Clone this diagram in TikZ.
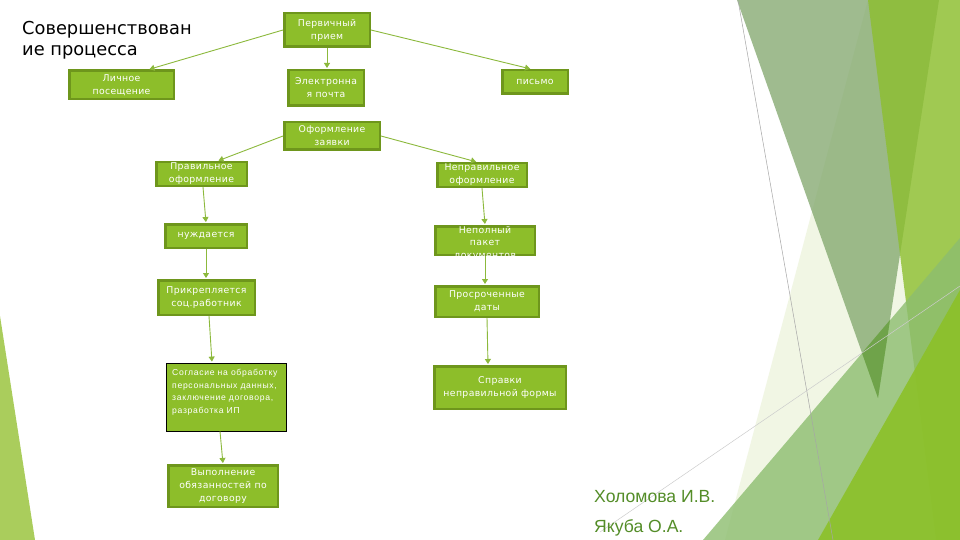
\documentclass[tikz,border=0pt]{standalone}
\usepackage{fontspec}
\setmainfont{DejaVu Sans}
\newfontfamily\boxfont[LetterSpace=4]{DejaVu Sans}
\newfontfamily\narrowfont[LetterSpace=8]{Liberation Sans}
\newfontfamily\authfont{Liberation Sans}
\usetikzlibrary{arrows.meta,calc}
\definecolor{boxfill}{RGB}{141,190,42}
\definecolor{boxedge}{RGB}{110,150,28}
\definecolor{linecol}{RGB}{140,185,60}
\definecolor{authgreen}{RGB}{84,141,40}
\definecolor{leftgreen}{RGB}{170,205,92}
\definecolor{palec}{RGB}{200,220,150}
\definecolor{bandA}{RGB}{127,165,106}
\definecolor{bandD}{RGB}{140,190,46}
\definecolor{bandL}{RGB}{140,189,111}
\definecolor{bandG}{RGB}{140,193,40}
\definecolor{darktri}{RGB}{111,163,74}
\begin{document}
\begin{tikzpicture}[x=1pt,y=-1pt,
  gbox/.style={draw=boxedge, line width=2.5pt, fill=boxfill, text=white,
    font=\boxfont\fontsize{9.3}{13}\selectfont, align=center, inner sep=0pt},
  boxtext/.style={text=white, font=\boxfont\fontsize{9.3}{12.5}\selectfont, align=center, inner sep=0pt},
  conn/.style={draw=linecol, line width=0.9pt, shorten >=1pt, -{Triangle[width=6pt,length=5pt]}},
  titlefont/.style={anchor=base west, inner sep=0pt, font=\fontsize{17.8}{20}\selectfont},
  authstyle/.style={anchor=base west, inner sep=0pt, text=authgreen, font=\authfont\fontsize{17.6}{20}\selectfont},
]
\useasboundingbox (0,0) rectangle (960,540);
\fill[white] (0,0) rectangle (960,540);
% background facets
\fill[leftgreen] (0,316) -- (35,540) -- (0,540) -- cycle;
\fill[palec, opacity=0.25] (868,0) -- (960,0) -- (960,540) -- (725,540) -- cycle;
\fill[bandA, opacity=0.75] (737,0) -- (939,0) -- (878,398) -- cycle;
\fill[bandD, opacity=0.8] (868,0) -- (960,0) -- (960,540) -- (936,540) -- cycle;
\fill[bandL, opacity=0.8] (703,540) -- (960,238) -- (960,540) -- cycle;
\fill[darktri] (862,353) -- (890,320) -- (878,398) -- cycle;
\fill[bandG, opacity=0.9] (818,540) -- (960,290) -- (960,540) -- cycle;
\draw[gray!70, line width=0.5pt] (738,0) -- (833,540);
\draw[gray!40, line width=0.5pt] (600,532) -- (960,286);

% title and authors
\node[titlefont] (t1) at (22,35) {Совершенствован};
\node[titlefont] (t2) at (22,56) {ие процесса};
\node[authstyle] (a1) at (594,502) {Холомова И.В.};
\node[authstyle] (a2) at (594,532) {Якуба О.А.};

% boxes
\node[gbox, minimum width=85.5pt, minimum height=33.5pt] (p1) at (327,30) {Первичный\\прием};
\node[gbox, minimum width=104.5pt, minimum height=28.5pt] (p2) at (121.5,85) {Личное\\посещение};
\node[gbox, minimum width=75.5pt, minimum height=35.5pt] (p3) at (326,88) {Электронна\\я почта};
\node[gbox, minimum width=65.5pt, minimum height=23.5pt] (p4) at (535,82) {письмо};
\node[gbox, minimum width=95.5pt, minimum height=27.5pt] (p5) at (332,136) {Оформление\\заявки};
\node[gbox, minimum width=90.5pt, minimum height=23.5pt] (p6) at (201.5,174) {Правильное\\оформление};
\node[gbox, minimum width=89.5pt, minimum height=23.5pt] (p7) at (482,175) {Неправильное\\оформление};
\node[gbox, minimum width=81.5pt, minimum height=23.5pt] (p8) at (206,236) {нуждается};
\node[gbox, minimum width=99.5pt, minimum height=28.5pt] (p9) at (485,240.5) {};
\node[boxtext] (p9t) at (485,243) {Неполный\\пакет\\документов};
\node[gbox, minimum width=96.5pt, minimum height=34.5pt] (p10) at (206.5,297.5) {Прикрепляется\\соц.работник};
\node[gbox, minimum width=103.5pt, minimum height=30.5pt] (p11) at (487,301.5) {Просроченные\\даты};
\node[draw=black, line width=0.8pt, fill=boxfill, minimum width=120pt, minimum height=68pt, inner sep=0pt] (p12) at (226,397) {};
\node[anchor=north west, inner sep=0pt, text=white, align=left,
  font=\narrowfont\fontsize{8.6}{12.5}\selectfont] (p12t) at (172,369)
  {Согласие на обработку\\персональных данных,\\заключение договора,\\разработка ИП};
\node[gbox, minimum width=131.5pt, minimum height=42.5pt] (p13) at (500,387.5) {Справки\\неправильной формы};
\node[gbox, minimum width=109.5pt, minimum height=41.5pt] (p14) at (223,486) {Выполнение\\обязанностей по\\договору};

% connectors
\draw[conn] (p1.west) -- ([xshift=27pt]p2.north);
\draw[conn] (p1.south) -- ([xshift=1pt]p3.north);
\draw[conn] (p1.east) -- ([xshift=-4pt]p4.north);
\draw[conn] (p5.west) -- ([xshift=16pt]p6.north);
\draw[conn] (p5.east) -- ([xshift=-5pt]p7.north);
\draw[conn] ([xshift=1.5pt]p6.south) -- (p8.north);
\draw[conn] (p8.south) -- ([xshift=-0.5pt]p10.north);
\draw[conn] ([xshift=2.5pt]p10.south) -- ([xshift=-14pt]p12.north);
\draw[conn] ([xshift=-6pt]p12.south) -- (p14.north);
\draw[conn] (p7.south) -- ([xshift=0pt]p9.north);
\draw[conn] (p9.south) -- ([xshift=-2pt]p11.north);
\draw[conn] (p11.south) -- ([xshift=-12pt]p13.north);
\end{tikzpicture}
\end{document}
